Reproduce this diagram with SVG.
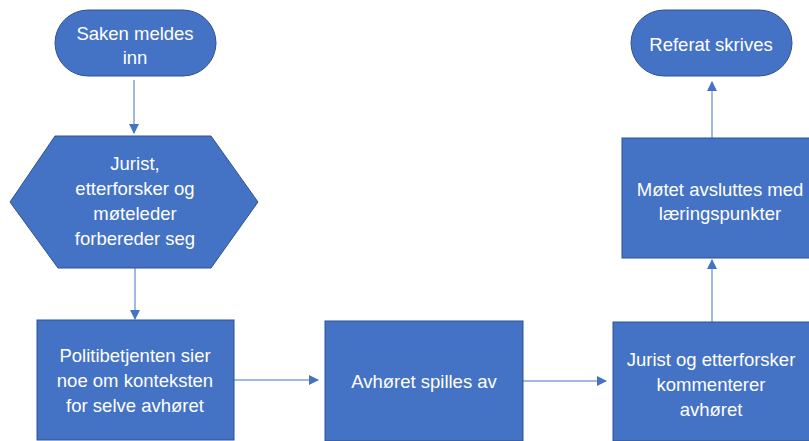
<svg xmlns="http://www.w3.org/2000/svg" width="809" height="441" viewBox="0 0 809 441">
<defs>
<style>
.n{fill:#4472C4;stroke:#2F528F;stroke-width:1}
.t{fill:#fff;font-family:"Liberation Sans",Arial,sans-serif;font-size:18.5px;text-anchor:middle}
.c{stroke:#4472C4;stroke-width:1;fill:none}
</style>
<marker id="ah" markerWidth="10" markerHeight="10" refX="9" refY="5" orient="auto" markerUnits="userSpaceOnUse">
<path d="M0,0 L10,5 L0,10 Z" fill="#4472C4"/>
</marker>
</defs>
<rect width="809" height="441" fill="#fff"/>
<g id="connectors">
<line class="c" x1="134" y1="80" x2="134" y2="133" marker-end="url(#ah)"/>
<line class="c" x1="135" y1="268" x2="135" y2="319" marker-end="url(#ah)"/>
<line class="c" x1="234" y1="380" x2="318" y2="380" marker-end="url(#ah)"/>
<line class="c" x1="523" y1="381" x2="606" y2="381" marker-end="url(#ah)"/>
<line class="c" x1="712" y1="322" x2="712" y2="260" marker-end="url(#ah)"/>
<line class="c" x1="712" y1="138" x2="712" y2="82" marker-end="url(#ah)"/>
</g>
<g id="n1">
<rect class="n" x="55" y="10" width="161" height="66" rx="33"/>
<text class="t" x="135" y="40">Saken meldes</text>
<text class="t" x="135" y="64">inn</text>
</g>
<g id="n2">
<polygon class="n" points="55,136 211,136 258,202 211,268 58,268 10,202"/>
<text class="t" x="135" y="170">Jurist,</text>
<text class="t" x="135" y="195">etterforsker og</text>
<text class="t" x="135" y="220">møteleder</text>
<text class="t" x="135" y="245">forbereder seg</text>
</g>
<g id="n3">
<rect class="n" x="37" y="320" width="197" height="120"/>
<text class="t" x="135" y="362">Politibetjenten sier</text>
<text class="t" x="135" y="387">noe om konteksten</text>
<text class="t" x="135" y="412">for selve avhøret</text>
</g>
<g id="n4">
<rect class="n" x="325" y="321" width="198" height="120"/>
<text class="t" x="424" y="388">Avhøret spilles av</text>
</g>
<g id="n5">
<rect class="n" x="613" y="322" width="197" height="119"/>
<text class="t" x="711" y="366">Jurist og etterforsker</text>
<text class="t" x="711" y="391">kommenterer</text>
<text class="t" x="711" y="416">avhøret</text>
</g>
<g id="n6">
<rect class="n" x="622" y="138" width="197" height="120"/>
<text class="t" x="720" y="196">Møtet avsluttes med</text>
<text class="t" x="720" y="220">læringspunkter</text>
</g>
<g id="n7">
<rect class="n" x="631" y="10" width="161" height="66" rx="33"/>
<text class="t" x="711" y="51">Referat skrives</text>
</g>
</svg>
